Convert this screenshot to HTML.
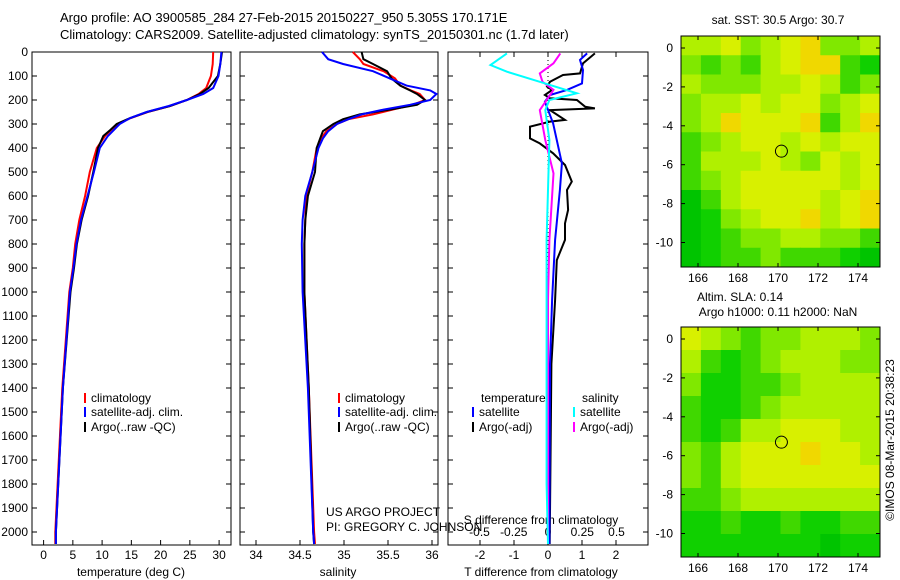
<!DOCTYPE html>
<html><head><meta charset="utf-8"><style>
html,body{margin:0;padding:0;background:#fff}
svg{display:block;font-family:"Liberation Sans",sans-serif}
</style></head><body>
<svg id="c" width="900" height="580" viewBox="0 0 900 580">
<text x="60" y="22" font-size="13">Argo profile: AO 3900585_284 27-Feb-2015 20150227_950 5.305S 170.171E</text>
<text x="60" y="39" font-size="13">Climatology: CARS2009. Satellite-adjusted climatology: synTS_20150301.nc (1.7d later)</text>
<text x="778" y="24" font-size="12" text-anchor="middle">sat. SST: 30.5 Argo: 30.7</text>
<text x="740" y="301" font-size="12" text-anchor="middle">Altim. SLA: 0.14</text>
<text x="778" y="316" font-size="12" text-anchor="middle">Argo h1000: 0.11 h2000: NaN</text>
<text transform="translate(894,440) rotate(-90)" font-size="12" text-anchor="middle">©IMOS 08-Mar-2015 20:38:23</text>
<text x="326" y="516" font-size="12">US ARGO PROJECT</text>
<text x="326" y="531" font-size="12">PI: GREGORY C. JOHNSON</text>
<g id="g"></g>
</svg>
<script>
// ---- data ----
const tempDepth = [0,50,100,150,175,200,225,250,275,300,325,350,400,500,600,700,800,900,1000,1400,2000,2050];
const tempArgo  = [30.5,30.2,29.8,28.2,26.7,24.5,21.6,17.7,14.8,12.5,11.4,10.2,9.3,8.5,7.6,6.5,5.7,5.2,4.6,3.3,2.1,2.1];
const tempClim  = [29.0,28.9,28.6,27.8,26.5,24.5,21.6,17.8,14.9,12.7,11.5,10.5,9.1,7.9,7.1,6.1,5.4,5.0,4.4,3.2,2.0,2.0];
const tempSat   = [30.4,30.2,29.9,29.0,27.3,24.5,21.4,17.6,14.8,13.0,12.0,11.0,9.6,8.6,7.5,6.4,5.6,5.1,4.5,3.3,2.1,2.1];
const salDepth  = [0,30,50,80,110,140,160,175,200,220,240,260,280,300,330,360,400,500,600,700,800,1000,1400,2000,2050];
const salArgo   = [35.2,35.22,35.33,35.49,35.54,35.64,35.75,35.83,35.92,35.83,35.52,35.18,34.99,34.88,34.76,34.73,34.69,34.67,34.59,34.56,34.55,34.55,34.6,34.65,34.66];
const salClim   = [35.1,35.18,35.22,35.45,35.58,35.64,35.76,35.86,35.92,35.78,35.55,35.33,35.05,34.92,34.8,34.74,34.69,34.64,34.57,34.56,34.55,34.55,34.6,34.66,34.67];
const salSat    = [34.75,34.82,34.99,35.33,35.52,35.71,35.98,36.05,35.98,35.75,35.45,35.2,35.05,34.92,34.82,34.76,34.71,34.64,34.56,34.53,34.52,34.53,34.59,34.65,34.66];
const dArgoTD = [6,47,89,96,124,144,158,179,193,200,228,235,242,283,290,311,360,381,422,471,540,575,658,714,783,867,1033,1300,2050];
const dArgoTV = [1.38,1.03,0.94,0.44,0.06,-0.03,0.12,-0.09,0.06,0.85,1.09,1.38,0.06,0.5,0.06,-0.53,-0.53,-0.24,0.15,0.5,0.7,0.56,0.59,0.5,0.5,0.26,0.21,0.1,0.05];
const dSatTD = [6,33,75,131,158,179,207,297,464,575,783,1033,1300,2050];
const dSatTV = [1.15,0.94,1.03,1.0,0.56,0.06,-0.09,0.15,0.41,0.35,0.21,0.12,0.06,0.04];
const dArgoSD = [6,47,89,124,158,242,367,506,783,1033,2050];
const dArgoSV = [0.09,0.04,-0.06,-0.04,0.04,-0.06,-0.02,0.04,0.01,0.0,0.0];
const dSatSD = [6,54,82,124,172,200,242,367,783,1033,1800,2050];
const dSatSV = [-0.30,-0.42,-0.30,-0.06,0.21,0.01,-0.02,0.01,-0.01,-0.01,-0.01,0.0];
const depthTicks = [0,100,200,300,400,500,600,700,800,900,1000,1100,1200,1300,1400,1500,1600,1700,1800,1900,2000];
const tempTicks = [0,5,10,15,20,25,30];
const salTicks = [34,34.5,35,35.5,36];
const tdTicks = [-2,-1,0,1,2];
const sdTicks = [-0.5,-0.25,0,0.25,0.5];
const sdTickLabels = ['-0.5','-0.25','0','0.25','0.5'];
const lonTicks = [166,168,170,172,174];
const latTicks = [0,-2,-4,-6,-8,-10];
const sstGrid = [
[6,6,7,5,6,7,8,5,5,6],[5,4,5,4,6,7,8,8,4,3],[6,5,5,5,6,6,7,6,4,5],[5,6,6,7,6,7,7,5,6,7],
[5,6,8,7,7,7,8,4,6,8],[4,5,6,7,7,6,7,6,7,7],[4,6,6,6,7,6,5,7,6,7],[4,5,6,7,7,7,7,7,6,7],
[2,4,6,7,7,7,7,6,7,8],[2,3,5,6,7,7,8,6,7,8],[2,3,4,5,5,6,6,5,5,4],[2,3,4,4,5,4,4,4,3,2]];
const slaGrid = [
[7,6,5,4,5,5,6,6,6,5],[6,4,3,4,5,6,6,6,5,5],[5,3,3,4,4,5,6,6,6,6],[4,3,3,4,5,6,6,6,6,6],
[4,3,4,6,6,7,7,7,6,6],[5,4,6,7,7,7,8,7,7,6],[5,4,6,7,7,7,7,7,7,7],[4,4,5,6,6,6,6,6,6,6],
[3,3,4,3,3,4,3,3,4,4],[3,3,3,3,3,3,3,2,3,3]];
const floatLon = 170.171, floatLat = -5.305;

// ---- drawing ----
const NS='http://www.w3.org/2000/svg', G=document.getElementById('g');
function mk(t,a,p){const e=document.createElementNS(NS,t);for(const k in a)e.setAttribute(k,a[k]);(p||G).appendChild(e);return e;}
const yD = d => 52 + d*0.24;
const xT = v => 43.6 + v*5.85;
const xS = v => 256 + (v-34)*88;
const xTD = v => 548 + v*34;
const xSD = v => 548 + v*137;

function frame(x0,x1,name){
  const r=mk('rect',{x:x0,y:52,width:x1-x0,height:493,fill:'none',stroke:'#000','stroke-width':1});
  
  
  depthTicks.forEach(d=>{mk('line',{x1:x0,x2:x0+5,y1:yD(d),y2:yD(d),stroke:'#000'});mk('line',{x1:x1,x2:x1-5,y1:yD(d),y2:yD(d),stroke:'#000'});});
}
function line(xs,ys,fx,col,name,w){
  const p=xs.map((v,i)=>fx(v).toFixed(1)+','+yD(ys[i]).toFixed(1)).join(' ');
  const e=mk('polyline',{points:p,fill:'none',stroke:col,'stroke-width':w||2});
  
  
}
function xticks(ticks,fx,labels,y){
  ticks.forEach((t,i)=>{
    mk('line',{x1:fx(t),x2:fx(t),y1:545,y2:540,stroke:'#000'});
    const e=mk('text',{x:fx(t),y:y,'font-size':12,'text-anchor':'middle'});e.textContent=labels?labels[i]:String(t);
    
    
  });
}
function txt(x,y,s,name,anchor){const e=mk('text',{x:x,y:y,'font-size':12,'text-anchor':anchor||'start'});e.textContent=s;
  
  return e;}
function legend(x,y,col,s){mk('rect',{x:x,y:y-9,width:2,height:10,fill:col});txt(x+7,y,s,'legend-entry');}

// panel 1
frame(32,231,'temperature-panel');
depthTicks.forEach(d=>txt(28,yD(d)+4,String(d),'y-tick-label','end'));
xticks(tempTicks,xT,null,559);
txt(131,576,'temperature (deg C)','temperature-axis-title','middle');
line(tempClim,tempDepth,xT,'#f00','temp-climatology');
line(tempArgo,tempDepth,xT,'#000','temp-argo');
line(tempSat,tempDepth,xT,'#00f','temp-satellite');
legend(84,402,'#f00','climatology');legend(84,416,'#00f','satellite-adj. clim.');legend(84,431,'#000','Argo(..raw -QC)');

// panel 2
frame(240,438,'salinity-panel');
xticks(salTicks,xS,['34','34.5','35','35.5','36'],559);
txt(338,576,'salinity','salinity-axis-title','middle');
line(salClim,salDepth,xS,'#f00','sal-climatology');
line(salArgo,salDepth,xS,'#000','sal-argo');
line(salSat,salDepth,xS,'#00f','sal-satellite');
legend(338,402,'#f00','climatology');legend(338,416,'#00f','satellite-adj. clim.');legend(338,431,'#000','Argo(..raw -QC)');

// panel 3
frame(448,648,'difference-panel');
mk('line',{x1:548,x2:548,y1:52,y2:545,stroke:'#000','stroke-dasharray':'1,3'});
tdTicks.forEach(t=>mk('line',{x1:xTD(t),x2:xTD(t),y1:52,y2:57,stroke:'#000'}));
xticks(tdTicks,xTD,null,559);
sdTicks.forEach((t,i)=>txt(xSD(t),536,sdTickLabels[i],'s-diff-tick-label','middle'));
txt(541,524,'S difference from climatology','s-diff-axis-title','middle');
txt(541,576,'T difference from climatology','t-diff-axis-title','middle');
line(dArgoTV,dArgoTD,xTD,'#000','t-diff-argo');
line(dSatTV,dSatTD,xTD,'#00f','t-diff-satellite');
line(dArgoSV,dArgoSD,xSD,'#f0f','s-diff-argo');
line(dSatSV,dSatSD,xSD,'#0ff','s-diff-satellite');
txt(481,402,'temperature','legend-header-temperature');txt(582,402,'salinity','legend-header-salinity');
legend(472,416,'#00f','satellite');legend(472,431,'#000','Argo(-adj)');
legend(573,416,'#0ff','satellite');legend(573,431,'#f0f','Argo(-adj)');

// maps
const pal=['#00a000','#00b400','#00c400','#10d000','#40d800','#80e800','#b0f000','#d8f000','#f0d800','#f0a000'];
function map(grid,top,bottom,name){
  const x0=681,x1=880,lon=v=>678+(v-165)*20, lat0=top+12, lat=v=>lat0-v*19.45;
  const rows=grid.length, cols=grid[0].length, cw=(x1-x0)/cols, ch=(bottom-top)/rows;
  grid.forEach((r,i)=>r.forEach((v,j)=>{
    const e=mk('rect',{x:x0+j*cw,y:top+i*ch,width:cw+0.5,height:ch+0.5,fill:pal[v]});
    
    
  }));
  const f=mk('rect',{x:x0,y:top,width:x1-x0,height:bottom-top,fill:'none',stroke:'#000'});
  
  
  lonTicks.forEach(v=>{mk('line',{x1:lon(v),x2:lon(v),y1:bottom,y2:bottom-4,stroke:'#000'});mk('line',{x1:lon(v),x2:lon(v),y1:top,y2:top+4,stroke:'#000'});
    txt(lon(v),bottom+15,String(v),'lon-tick-label','middle');});
  latTicks.forEach(v=>{mk('line',{x1:x0,x2:x0+4,y1:lat(v),y2:lat(v),stroke:'#000'});mk('line',{x1:x1,x2:x1-4,y1:lat(v),y2:lat(v),stroke:'#000'});
    txt(673,lat(v)+4,String(v),'lat-tick-label','end');});
  const c=mk('circle',{cx:lon(floatLon),cy:lat(floatLat),r:6,fill:'none',stroke:'#000'});
  
  
}
map(sstGrid,36,267,'sst-map');
map(slaGrid,327,557,'sla-map');
</script>
</body></html>
